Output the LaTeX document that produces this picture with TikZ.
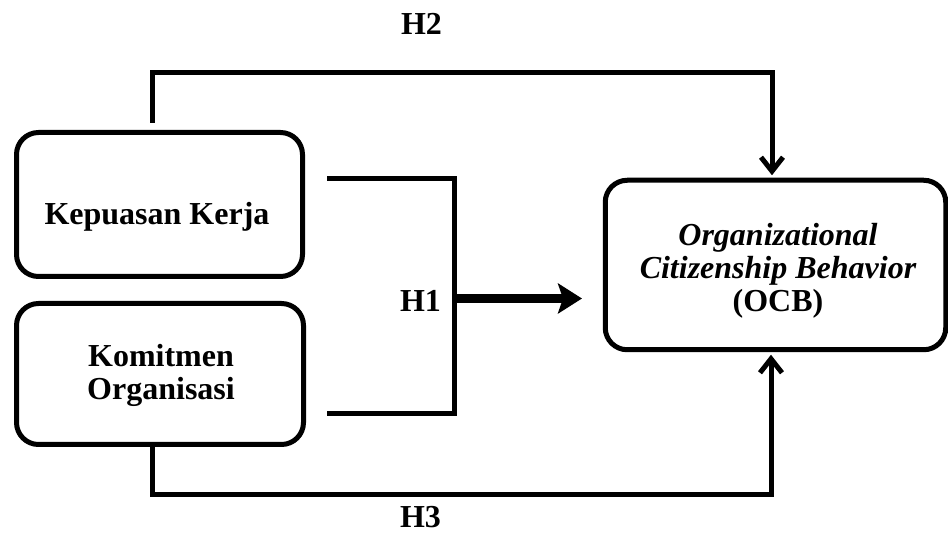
\documentclass[tikz,border=0pt]{standalone}
\usepackage{fontspec}
\setmainfont{Liberation Serif}
\usetikzlibrary{arrows.meta,calc}
\begin{document}
\begin{tikzpicture}[x=1pt,y=-1pt,
  box/.style={draw=black,line width=5pt,rounded corners=22pt,fill=white,inner sep=0pt},
  txt/.style={align=center,font=\fontsize{32}{33}\selectfont\bfseries,inner sep=0pt,anchor=base},
  conn/.style={line width=5pt,line cap=rect},
  tipa/.style={-{Straight Barb[length=14pt,width=22pt,line width=5pt]}},
  tipb/.style={-{Stealth[length=24pt,width=30pt,inset=5pt]}},
  lab/.style={font=\fontsize{32}{32}\selectfont\bfseries,inner sep=0pt,anchor=base}]
\useasboundingbox (0,0) rectangle (948,534);
\node[box,minimum width=286pt,minimum height=144pt] (kk) at (159.5,204.5) {};
\node[box,minimum width=287pt,minimum height=141pt] (ko) at (160,374) {};
\node[box,minimum width=340.5pt,minimum height=169.5pt] (ocb) at (775.5,265) {};
\node[txt] (kkt) at (157,225) {Kepuasan Kerja};
\node[txt] (kot) at (161,400) {Komitmen\\Organisasi};
\node[txt] (ocbt) at (778,312) {\itshape Organizational\\\itshape Citizenship Behavior\\(OCB)};
\node[lab] (h2) at (421.5,35) {H2};
\node[lab] (h1) at (420.5,311.5) {H1};
\node[lab] (h3) at (420.5,527) {H3};
% H2
\coordinate (h2s) at (152.5,121);
\coordinate (h2c) at (772,73);
\draw[conn] (h2s) |- (h2c);
\draw[conn,line cap=butt,tipa] (h2c) -- ([yshift=2.5pt]ocb.north -| h2c);
% H3
\coordinate (h3c) at (771,494.5);
\draw[conn] (ko.south -| h2s) |- (h3c);
\draw[conn,line cap=butt,tipa] (h3c) -- ([yshift=-2.5pt]ocb.south -| h3c);
% H1 bracket
\coordinate (b1) at (327,179);
\coordinate (b2) at (454,179);
\coordinate (b3) at (454,414);
\coordinate (b4) at (327,414);
\coordinate (h1j) at (454,298.5);
\coordinate (h1e) at (582,298.5);
\draw[line width=5pt] (b1) -- (b2) -- (b3) -- (b4);
\draw[line width=9pt,tipb] (h1j) -- (h1e);
\end{tikzpicture}
\end{document}
